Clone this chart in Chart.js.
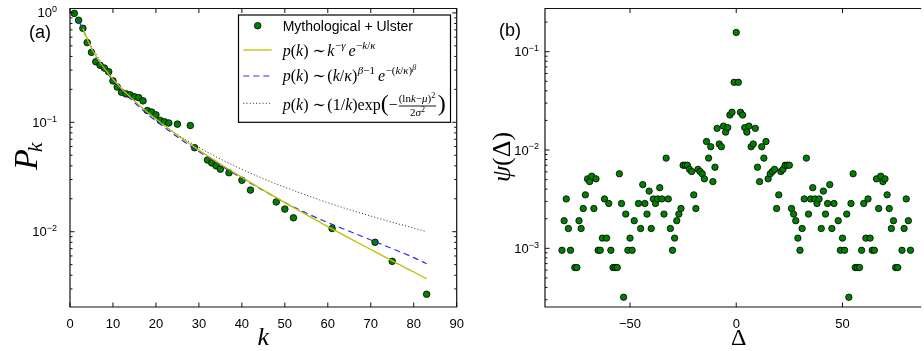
<!DOCTYPE html>
<html><head><meta charset="utf-8">
<script src="https://cdn.jsdelivr.net/npm/chart.js@4"></script>
<style>
html,body{margin:0;padding:0;background:#fff;overflow:hidden;width:924px;height:351px}
#wa{position:absolute;left:0;top:0;width:480px;height:351px}
#wb{position:absolute;left:480px;top:0;width:444px;height:351px;overflow:hidden}
#ca,#cb{position:absolute;left:0;top:0}
</style></head><body>
<div id="wa"><canvas id="ca" width="480" height="351" style="width:480px;height:351px"></canvas></div>
<div id="wb"><canvas id="cb" width="444" height="351" style="width:444px;height:351px"></canvas></div>
<script>
// ---------------- data ----------------
// panel (a): degree distribution
const degreeK = [1,2,3,4,5,6,7,8,9,10,11,12,13,14,15,16,17,18,19,20,21,22,23,25,28,29,32,33,34,35,37,40,42,48,50,52,61,71,75,83];
const degreeP = [0.99,0.856,0.723,0.535,0.436,0.358,0.332,0.313,0.290,0.239,0.210,0.188,0.182,0.178,0.171,0.168,0.157,0.128,0.124,0.117,0.104,0.101,0.0986,0.0962,0.0935,0.0586,0.0452,0.0425,0.0400,0.0373,0.0346,0.0295,0.0240,0.0187,0.0161,0.0134,0.0107,0.0080,0.00536,0.00268];
// fitted curves
const fitK     = [2,3,4,5,6,7,8,10,12,15,18,20,25,30,35,40,45,50,55,60,65,70,75,80,83];
const truncPL  = [null,0.719,0.573,0.475,0.406,0.352,0.311,0.248,0.204,0.157,0.124,0.107,0.0762,0.0557,0.0416,0.0314,0.0240,0.01845,0.01432,0.01114,0.00873,0.00687,0.00541,0.00428,0.00372];
const weibull  = [0.84,0.715,0.565,0.466,0.397,0.345,0.304,0.243,0.199,0.152,0.119,0.103,0.0735,0.0540,0.0405,0.0308,0.0238,0.0185,0.0148,0.0121,0.0101,0.0084,0.0070,0.0058,0.0051];
const logNormal= [null,0.72,0.590,0.494,0.422,0.365,0.320,0.252,0.205,0.156,0.123,0.106,0.0774,0.0589,0.0462,0.0372,0.0305,0.0255,0.0216,0.0184,0.0159,0.0139,0.0122,0.0108,0.0100];
// panel (b): psi(Delta)
const psiDelta = [-82,-81,-80,-79,-78,-76,-75,-74,-73,-72,-71,-70,-69,-68,-67,-66,-65,-64,-63,-62,-61,-60,-59,-58,-57,-56,-55,-54,-53,-52,-51,-50,-49,-48,-46,-45,-44,-43,-42,-41,-40,-39,-38,-37,-36,-35,-34,-33,-32,-31,-30,-29,-28,-27,-26,-25,-24,-23,-22,-21,-20,-19,-18,-17,-16,-15,-14,-13,-12,-11,-10,-9,-8,-7,-6,-5,-4,-3,-2,-1,
  0,
  1,2,3,4,5,6,7,8,9,10,11,12,13,14,15,16,17,18,19,20,21,22,23,24,25,26,27,28,29,30,31,32,33,34,35,36,37,38,39,40,41,42,43,44,45,46,48,49,50,51,52,53,54,55,56,57,58,59,60,61,62,63,64,65,66,67,68,69,70,71,72,73,74,75,76,78,79,80,81,82];
const psiValue = [0.000955,0.00191,0.00318,0.00159,0.000955,0.000637,0.000637,0.00191,0.00159,0.00254,0.00350,0.00509,0.00477,0.00541,0.00254,0.00509,0.000955,0.000955,0.00127,0.00318,0.00127,0.00286,0.000955,0.000637,0.000637,0.000637,0.00573,0.00286,0.000318,0.00223,0.000955,0.00127,0.000955,0.00191,0.00286,0.00159,0.00445,0.00286,0.00223,0.00382,0.00159,0.00318,0.00286,0.00318,0.00414,0.00318,0.00223,0.00827,0.00318,0.00159,0.000955,0.00127,0.00191,0.00223,0.00254,0.00700,0.00700,0.00700,0.00636,0.00604,0.00350,0.00254,0.00636,0.00604,0.00573,0.00509,0.0122,0.00827,0.0108,0.00477,0.00668,0.0166,0.0115,0.0108,0.0175,0.0152,0.0169,0.0227,0.0242,0.0488,
  0.157,
  0.0488,0.0242,0.0227,0.0169,0.0152,0.0175,0.0108,0.0115,0.0166,0.00668,0.00477,0.0108,0.00827,0.0122,0.00509,0.00573,0.00604,0.00636,0.00254,0.00350,0.00604,0.00636,0.00700,0.00700,0.00700,0.00254,0.00223,0.00191,0.00127,0.000955,0.00159,0.00318,0.00827,0.00223,0.00318,0.00414,0.00318,0.00286,0.00318,0.00159,0.00382,0.00223,0.00286,0.00445,0.00159,0.00286,0.00191,0.000955,0.00127,0.000955,0.00223,0.000318,0.00286,0.00573,0.000637,0.000637,0.000637,0.000955,0.00286,0.00127,0.00318,0.00127,0.000955,0.000955,0.00509,0.00254,0.00541,0.00477,0.00509,0.00350,0.00254,0.00159,0.00191,0.000637,0.000637,0.000955,0.00159,0.00318,0.00191,0.000955];
// ticks
const leftXTicks = [0,10,20,30,40,50,60,70,80,90];
const leftYTicks = [1,0.1,0.01];
const leftYExp   = ['0','\u22121','\u22122'];
const rightXTicks = [-50,0,50];
const rightXLabels = ['\u221250','0','50'];
const rightYTicks = [0.1,0.01,0.001];
const rightYExp   = ['\u22121','\u22122','\u22123'];
const seriesLabels = ['Mythological + Ulster'];

// ---------------- helpers ----------------
const SANS = '"Liberation Sans", Arial, sans-serif';
const SERIF = '"Liberation Serif", "DejaVu Serif", serif';
function pts(xs, ys){ const o=[]; xs.forEach((x,i)=>{ if(ys[i]!==null) o.push({x:x,y:ys[i]}); }); return o; }
function segs(ctx, x, y, list){
  for(const s of list){ ctx.font=s[1]; ctx.fillText(s[0], x, y+(s[2]||0)); x += ctx.measureText(s[0]).width + (s[3]||0); }
  return x;
}
function drawPow(ctx, xr, yc, exp){
  ctx.textAlign='left'; ctx.textBaseline='alphabetic';
  ctx.font='13px '+SANS; const w1=ctx.measureText('10').width;
  ctx.font='9px '+SANS; const w2=ctx.measureText(exp).width;
  const x0=xr-w1-w2;
  ctx.font='13px '+SANS; ctx.fillText('10', x0, yc+4.6);
  ctx.font='9px '+SANS; ctx.fillText(exp, x0+w1, yc-0.8);
}
function makeDecor(cfg){
  return { id:'decor', afterDraw(chart){
    const ctx=chart.ctx, a=chart.chartArea, xs=chart.scales.x, ys=chart.scales.y;
    ctx.save();
    ctx.strokeStyle='#111'; ctx.lineWidth=1.2;
    ctx.beginPath();
    if(cfg.drawRight){ ctx.rect(a.left, a.top, a.right-a.left, a.bottom-a.top); }
    else { ctx.moveTo(a.right+2,a.top); ctx.lineTo(a.left,a.top); ctx.lineTo(a.left,a.bottom); ctx.lineTo(a.right+2,a.bottom); }
    ctx.stroke();
    ctx.lineWidth=1; ctx.strokeStyle='#111';
    ctx.beginPath();
    for(const v of cfg.xTicks){ const p=xs.getPixelForValue(v);
      ctx.moveTo(p,a.bottom); ctx.lineTo(p,a.bottom-4.5); ctx.moveTo(p,a.top); ctx.lineTo(p,a.top+4.5); }
    const lo=Math.floor(Math.log10(ys.min)), hi=Math.ceil(Math.log10(ys.max));
    for(let d=lo; d<=hi; d++){ for(let m=1;m<=9;m++){ const v=m*Math.pow(10,d);
      if(v<ys.min||v>ys.max) continue; const p=ys.getPixelForValue(v); const L=(m===1)?4.5:2.5;
      ctx.moveTo(a.left,p); ctx.lineTo(a.left+L,p);
      if(cfg.drawRight){ ctx.moveTo(a.right,p); ctx.lineTo(a.right-L,p); } } }
    ctx.stroke();
    ctx.fillStyle='#000';
    cfg.yTicks.forEach((v,i)=>drawPow(ctx, a.left-cfg.yPad, ys.getPixelForValue(v), cfg.yExp[i]));
    cfg.extra(ctx, a);
    ctx.restore();
  }};
}
function xScale(min,max,ticks,labels){
  return { type:'linear', min:min, max:max,
    grid:{display:false}, border:{display:false},
    afterBuildTicks(s){ s.ticks = ticks.map(v=>({value:v})); },
    ticks:{ callback:(v)=>labels[ticks.indexOf(v)], font:{family:'Liberation Sans', size:13}, color:'#000', padding:2, maxRotation:0, autoSkip:false },
    afterFit(s){ s.height=44; s.paddingLeft=0; s.paddingRight=0; } };
}
function yScale(min,max,w){
  return { type:'logarithmic', min:min, max:max, grid:{display:false}, border:{display:false},
    ticks:{display:false}, afterFit(s){ s.width=w; s.paddingTop=0; s.paddingBottom=0; } };
}

// ---------------- panel (a) ----------------
const legendA = function(ctx, a){
  ctx.fillStyle='#fff'; ctx.fillRect(238.5,15,212,107.3);
  ctx.strokeStyle='#000'; ctx.lineWidth=1.2; ctx.strokeRect(238.5,15,212,107.3);
  ctx.beginPath(); ctx.arc(257.7,25.7,3.3,0,2*Math.PI); ctx.fillStyle='#008000'; ctx.fill(); ctx.lineWidth=0.8; ctx.strokeStyle='#000'; ctx.stroke();
  ctx.lineWidth=1.3; ctx.strokeStyle='#bfbf00'; ctx.beginPath(); ctx.moveTo(243.3,50); ctx.lineTo(271.7,50); ctx.stroke();
  ctx.lineWidth=1.2; ctx.strokeStyle='#2a2aff'; ctx.setLineDash([6,4]); ctx.beginPath(); ctx.moveTo(243.3,76); ctx.lineTo(271.7,76); ctx.stroke();
  ctx.lineWidth=1; ctx.strokeStyle='#222'; ctx.setLineDash([1,2.2]); ctx.beginPath(); ctx.moveTo(243.3,103.3); ctx.lineTo(271.7,103.3); ctx.stroke();
  ctx.setLineDash([]);
  ctx.fillStyle='#000'; ctx.textAlign='left'; ctx.textBaseline='alphabetic';
  ctx.font='14px '+SANS; ctx.fillText(seriesLabels[0], 282.7, 30.7);
  const IT='italic 16px '+SERIF, UP='16px '+SERIF, SIT='italic 11px '+SERIF, SUP='11px '+SERIF, SSIT='italic 8px '+SERIF, SSUP='8px '+SERIF;
  const P=[['p',IT],['(',UP],['k',IT],[')',UP],[' \u223C',UP,0,1.5]];
  segs(ctx, 282.7, 55.5, P.concat([['k',IT,0,0.5],['\u2212',SUP,-7],['\u03B3',SIT,-7,3],['e',IT,0,0.5],['\u2212',SUP,-7],['k',SIT,-7],['/',SUP,-7],['\u03BA',SIT,-7]]));
  segs(ctx, 282.7, 81, P.concat([['(',UP],['k',IT],['/',UP],['\u03BA',IT],[')',UP,0,0.5],['\u03B2',SIT,-7],['\u22121',SUP,-7,3],['e',IT,0,0.5],['\u2212(',SUP,-7],['k',SIT,-7],['/',SUP,-7],['\u03BA',SIT,-7],[')',SUP,-7],['\u03B2',SSIT,-11]]));
  let x=segs(ctx, 282.7, 110, P.concat([['(1/',UP],['k',IT],[')exp',UP]]));
  ctx.font='24px '+SERIF; ctx.fillText('(', x, 110.5); x+=ctx.measureText('(').width;
  ctx.font=UP; ctx.fillText('\u2212', x, 110); x+=ctx.measureText('\u2212').width+1;
  const fx=x;
  let nx=segs(ctx, fx, 102, [['(ln',SUP],['k',SIT],['\u2212',SUP],['\u03BC',SIT],[')',SUP],['2',SSUP,-4.5]]);
  const fw=nx-fx+1;
  ctx.lineWidth=0.9; ctx.strokeStyle='#000'; ctx.beginPath(); ctx.moveTo(fx,106); ctx.lineTo(fx+fw,106); ctx.stroke();
  ctx.font=SUP; const dw=ctx.measureText('2').width; ctx.font=SIT; const dw2=ctx.measureText('\u03C3').width; ctx.font=SSUP; const dw3=ctx.measureText('2').width;
  segs(ctx, fx+(fw-dw-dw2-dw3)/2, 116, [['2',SUP],['\u03C3',SIT],['2',SSUP,-4.5]]);
  ctx.font='24px '+SERIF; ctx.fillText(')', fx+fw+1.5, 110.5);
  ctx.font='18px '+SANS; ctx.textAlign='center'; ctx.fillText('(a)', 40, 37.7);
  ctx.font='italic 26px '+SERIF; ctx.fillText('k', (a.left+a.right)/2, 345);
  ctx.save(); ctx.translate(25,155); ctx.rotate(-Math.PI/2); ctx.textAlign='left';
  ctx.font='italic 34px '+SERIF; ctx.fillText('P', -15, 12); const wp=ctx.measureText('P').width;
  ctx.font='italic 22px '+SERIF; ctx.fillText('k', -15+wp-3, 17);
  ctx.restore();
};
new Chart(document.getElementById('ca'), {
  type:'scatter',
  data:{ datasets:[
    { label:seriesLabels[0], data:pts(degreeK,degreeP), backgroundColor:'#008000', borderColor:'#000', borderWidth:0.8, pointRadius:3.3, order:5 },
    { type:'line', label:'trunc', data:pts(fitK,truncPL), borderColor:'#bfbf00', borderWidth:1.3, pointRadius:0, fill:false, cubicInterpolationMode:'monotone', order:1 },
    { type:'line', label:'weib', data:pts(fitK,weibull), borderColor:'#2a2aff', borderWidth:1.2, borderDash:[6,4], pointRadius:0, fill:false, cubicInterpolationMode:'monotone', order:1 },
    { type:'line', label:'logn', data:pts(fitK,logNormal), borderColor:'#222', borderWidth:1, borderDash:[1,2.2], pointRadius:0, fill:false, cubicInterpolationMode:'monotone', order:1 }
  ]},
  options:{ responsive:false, animation:false, devicePixelRatio:1,
    layout:{padding:{left:0,right:23.3,top:8.5,bottom:0}},
    plugins:{legend:{display:false}, tooltip:{enabled:false}},
    scales:{ x:xScale(0,90,leftXTicks,leftXTicks.map(String)), y:yScale(0.00205,1.097,70) } },
  plugins:[makeDecor({drawRight:true, xTicks:leftXTicks, yTicks:leftYTicks, yExp:leftYExp, yPad:13, extra:legendA})]
});

// ---------------- panel (b) ----------------
const extraB = function(ctx, a){
  ctx.fillStyle='#000'; ctx.textBaseline='alphabetic'; ctx.textAlign='center';
  ctx.font='18px '+SANS; ctx.fillText('(b)', 30, 35.5);
  ctx.font='24px '+SERIF; ctx.fillText('\u0394', 258.7, 345);
  ctx.save(); ctx.translate(21.7,157); ctx.rotate(-Math.PI/2); ctx.textAlign='left';
  const L=[['\u03C8','italic 26px '+SERIF],['(\u0394)','26px '+SERIF]];
  let w=0; for(const s of L){ ctx.font=s[1]; w+=ctx.measureText(s[0]).width; }
  segs(ctx, -w/2, 8, L);
  ctx.restore();
};
new Chart(document.getElementById('cb'), {
  type:'scatter',
  data:{ datasets:[
    { label:'psi', data:pts(psiDelta,psiValue), backgroundColor:'#008000', borderColor:'#000', borderWidth:0.8, pointRadius:3.2 }
  ]},
  options:{ responsive:false, animation:false, devicePixelRatio:1,
    layout:{padding:{left:0,right:0,top:8.5,bottom:0}},
    plugins:{legend:{display:false}, tooltip:{enabled:false}},
    scales:{ x:xScale(-90,86.1,rightXTicks,rightXLabels), y:yScale(0.000253,0.275,65) } },
  plugins:[makeDecor({drawRight:false, xTicks:rightXTicks, yTicks:rightYTicks, yExp:rightYExp, yPad:6, extra:extraB})]
});
</script></body></html>
